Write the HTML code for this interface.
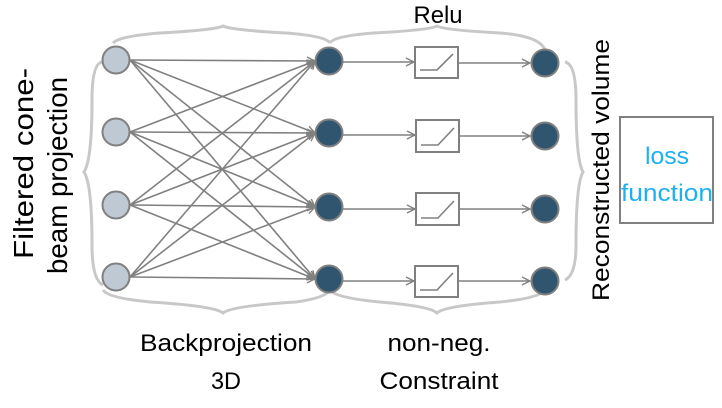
<!DOCTYPE html>
<html><head><style>body{margin:0;background:#fff}svg{display:block}</style></head><body>
<svg width="722" height="408" viewBox="0 0 722 408" xmlns="http://www.w3.org/2000/svg" font-family="Liberation Sans, sans-serif">
<defs><marker id="a" markerWidth="10" markerHeight="10" refX="9" refY="5" orient="auto" markerUnits="userSpaceOnUse"><path d="M1,1 L9,5 L1,9" fill="none" stroke="#808080" stroke-width="1.4"/></marker></defs>
<g fill="none" stroke="#c8c8c8" stroke-width="3">
<path d="M113,43 Q120,36 160,33 Q215,30 223,26 Q231,30 286,33 Q326,36 330,43"/>
<path d="M330,43 Q334,36 374,33 Q430,30 437,26 Q444,30 500,33 Q540,36 545,50"/>
<path d="M103,62 Q92,62 92,100 Q92,160 84,172 Q92,184 92,245 Q92,280 103,285"/>
<path d="M565,62 Q576,64 576,100 Q576,160 583,172 Q576,184 576,245 Q576,275 565,280"/>
<path d="M103,290 Q108,298 150,302 Q215,306 223,313 Q231,306 296,302 Q325,298 330,290"/>
<path d="M330,290 Q336,298 380,302 Q430,306 437,313 Q444,306 500,302 Q540,298 545,290"/>
</g>
<g stroke="#808080" stroke-width="1.6" marker-end="url(#a)">
<line x1="130" y1="60" x2="315" y2="61"/><line x1="130" y1="60" x2="315" y2="133"/><line x1="130" y1="60" x2="315" y2="207"/><line x1="130" y1="60" x2="315" y2="279"/>
<line x1="130" y1="132" x2="315" y2="61"/><line x1="130" y1="132" x2="315" y2="133"/><line x1="130" y1="132" x2="315" y2="207"/><line x1="130" y1="132" x2="315" y2="279"/>
<line x1="130" y1="205" x2="315" y2="61"/><line x1="130" y1="205" x2="315" y2="133"/><line x1="130" y1="205" x2="315" y2="207"/><line x1="130" y1="205" x2="315" y2="279"/>
<line x1="130" y1="277" x2="315" y2="61"/><line x1="130" y1="277" x2="315" y2="133"/><line x1="130" y1="277" x2="315" y2="207"/><line x1="130" y1="277" x2="315" y2="279"/>
<line x1="343" y1="62" x2="414" y2="62"/><line x1="343" y1="135" x2="415" y2="135"/><line x1="343" y1="209" x2="415" y2="209"/><line x1="343" y1="281" x2="414" y2="281"/>
<line x1="458" y1="63" x2="530" y2="63"/><line x1="460" y1="136" x2="530" y2="136"/><line x1="460" y1="209" x2="530" y2="209"/><line x1="458" y1="281" x2="530" y2="281"/>
</g>
<g fill="#fff" stroke="#808080" stroke-width="2">
<rect x="415" y="47" width="43" height="31"/><rect x="416" y="120" width="43" height="32"/><rect x="416" y="193" width="43" height="32"/><rect x="415" y="266" width="43" height="31"/>
</g>
<g fill="none" stroke="#808080" stroke-width="1.6">
<path d="M420,70 H437 L453,54"/><path d="M421,145 H438 L454,128"/><path d="M421,218 H438 L454,201"/><path d="M420,290 H437 L453,273"/>
</g>
<g fill="#bfc9d3" stroke="#808080" stroke-width="2">
<circle cx="116" cy="60" r="13.5"/><circle cx="116" cy="132" r="13.5"/><circle cx="116" cy="205" r="13.5"/><circle cx="116" cy="277" r="13.5"/>
</g>
<g fill="#2f566e" stroke="#808080" stroke-width="2">
<circle cx="329" cy="61" r="13.5"/><circle cx="329" cy="133" r="13.5"/><circle cx="329" cy="207" r="13.5"/><circle cx="329" cy="279" r="13.5"/>
<circle cx="545" cy="63" r="13.5"/><circle cx="545" cy="136" r="13.5"/><circle cx="545" cy="209" r="13.5"/><circle cx="545" cy="281" r="13.5"/>
</g>
<rect x="620" y="117" width="93" height="106" fill="#fff" stroke="#808080" stroke-width="2"/>
<text x="667" y="164" font-size="24" fill="#1fb0ef" text-anchor="middle" textLength="44" lengthAdjust="spacingAndGlyphs">loss</text>
<text x="667" y="201" font-size="24" fill="#1fb0ef" text-anchor="middle" textLength="92" lengthAdjust="spacingAndGlyphs">function</text>
<text x="438" y="23" font-size="24" text-anchor="middle" textLength="49" lengthAdjust="spacingAndGlyphs">Relu</text>
<text x="226" y="351" font-size="24" text-anchor="middle" textLength="172" lengthAdjust="spacingAndGlyphs">Backprojection</text>
<text x="226" y="389" font-size="24" text-anchor="middle" textLength="30" lengthAdjust="spacingAndGlyphs">3D</text>
<text x="439" y="351" font-size="24" text-anchor="middle" textLength="103" lengthAdjust="spacingAndGlyphs">non-neg.</text>
<text x="439" y="389" font-size="24" text-anchor="middle" textLength="119" lengthAdjust="spacingAndGlyphs">Constraint</text>
<text transform="translate(33,259) rotate(-90)" font-size="28" textLength="191" lengthAdjust="spacingAndGlyphs">Filtered cone-</text>
<text transform="translate(67,274) rotate(-90)" font-size="28" textLength="197" lengthAdjust="spacingAndGlyphs">beam projection</text>
<text transform="translate(609,301) rotate(-90)" font-size="24" textLength="262" lengthAdjust="spacingAndGlyphs">Reconstructed volume</text>
</svg>
</body></html>
